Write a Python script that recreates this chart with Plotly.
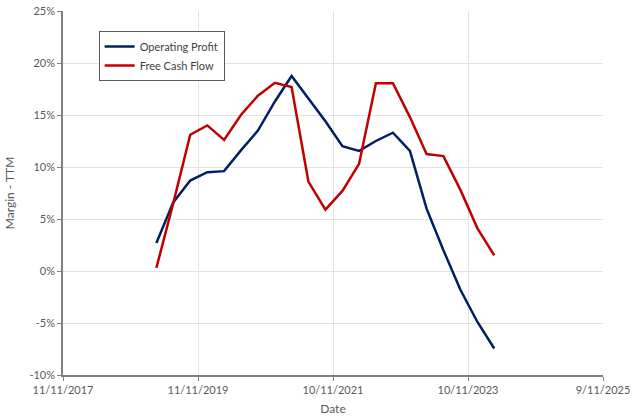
import plotly.graph_objects as go

dates = ["2019-03-31", "2019-06-30", "2019-09-30", "2019-12-31",
         "2020-03-31", "2020-06-30", "2020-09-30", "2020-12-31",
         "2021-03-31", "2021-06-30", "2021-09-30", "2021-12-31",
         "2022-03-31", "2022-06-30", "2022-09-30", "2022-12-31",
         "2023-03-31", "2023-06-30", "2023-09-30", "2023-12-31",
         "2024-03-31"]

operating_profit = [2.7, 6.6, 8.7, 9.5, 9.6, 11.6, 13.5, 16.3, 18.75, 16.6,
                    14.4, 12.0, 11.55, 12.5, 13.3, 11.55, 6.0, 2.0, -1.8,
                    -4.9, -7.45]
free_cash_flow = [0.3, 6.5, 13.1, 14.0, 12.6, 15.0, 16.85, 18.1, 17.7, 8.6,
                  5.9, 7.7, 10.3, 18.05, 18.05, 14.8, 11.25, 11.05, 7.8,
                  4.1, 1.5]

x_tickvals = ["2017-11-11", "2019-11-11", "2021-11-10", "2023-11-10", "2025-11-09"]
x_ticktext = ["11/11/2017", "11/11/2019", "10/11/2021", "10/11/2023", "9/11/2025"]
y_tickvals = [-10, -5, 0, 5, 10, 15, 20, 25]
y_ticktext = ["-10%", "-5%", "0%", "5%", "10%", "15%", "20%", "25%"]

font_family = "Lato, 'Open Sans', sans-serif"
axis_color = "#7f7f7f"
grid_color = "#e3e3e3"
text_color = "#595959"

fig = go.Figure()
fig.add_trace(go.Scatter(x=dates, y=operating_profit, mode="lines",
                         name="Operating Profit",
                         line=dict(color="#002060", width=2.5)))
fig.add_trace(go.Scatter(x=dates, y=free_cash_flow, mode="lines",
                         name="Free Cash Flow",
                         line=dict(color="#C00000", width=2.5)))

fig.update_layout(
    width=640, height=418,
    margin=dict(l=63, r=37, t=11, b=43),
    paper_bgcolor="white", plot_bgcolor="white",
    font=dict(family=font_family, size=11, color=text_color),
    showlegend=True,
    legend=dict(x=0.066, y=0.945, xanchor="left", yanchor="top",
                bgcolor="white", bordercolor="#595959", borderwidth=1,
                font=dict(family=font_family, size=11, color="#404040"),
                itemwidth=30, tracegroupgap=0),
)

fig.update_xaxes(
    type="date",
    range=["2017-11-11", "2025-11-09"],
    tickmode="array", tickvals=x_tickvals, ticktext=x_ticktext,
    showgrid=True, gridcolor=grid_color, gridwidth=1,
    showline=True, linecolor=axis_color, linewidth=1.5,
    ticks="outside", ticklen=4, tickcolor=axis_color,
    tickfont=dict(size=11, color=text_color),
    title=dict(text="Date", font=dict(size=12, color=text_color), standoff=10),
    zeroline=False, automargin=False,
)
fig.update_yaxes(
    range=[-10, 25],
    tickmode="array", tickvals=y_tickvals, ticktext=y_ticktext,
    showgrid=True, gridcolor=grid_color, gridwidth=1,
    showline=True, linecolor=axis_color, linewidth=1.5,
    ticks="outside", ticklen=4, tickcolor=axis_color,
    tickfont=dict(size=11, color=text_color),
    title=dict(text="Margin - TTM", font=dict(size=12, color=text_color), standoff=12),
    zeroline=False, automargin=False,
)

fig.write_html("out.html")
